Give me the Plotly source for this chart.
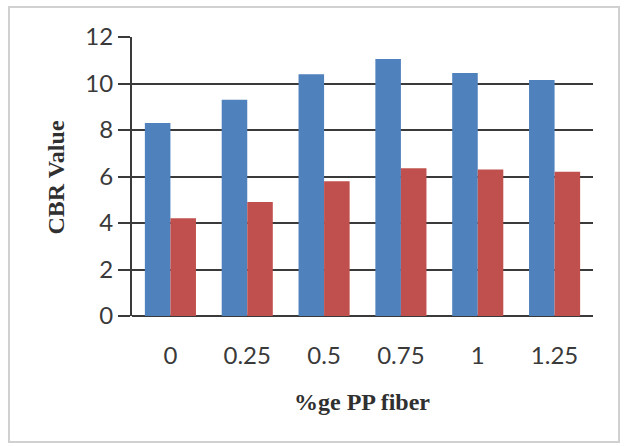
import plotly.graph_objects as go

categories = ["0", "0.25", "0.5", "0.75", "1", "1.25"]
series_a = [8.3, 9.3, 10.4, 11.05, 10.45, 10.15]
series_b = [4.2, 4.9, 5.8, 6.35, 6.3, 6.2]
y_ticks = [0, 2, 4, 6, 8, 10, 12]

fig = go.Figure()
fig.add_trace(go.Bar(x=categories, y=series_a, marker=dict(color="#4F81BD", line=dict(width=0)), name="A"))
fig.add_trace(go.Bar(x=categories, y=series_b, marker=dict(color="#C0504D", line=dict(width=0)), name="B"))

W, H = 626, 446
L, R, T, B = 132, 33, 37, 130
pw, ph = W - L - R, H - T - B

def px(x):
    return (x - L) / pw

def py(y):
    return (H - B - y) / ph

fig.update_layout(
    width=W, height=H,
    margin=dict(l=L, r=R, t=T, b=B),
    paper_bgcolor="white", plot_bgcolor="white",
    showlegend=False,
    barmode="group", bargap=0.335, bargroupgap=0,
    font=dict(family="Lato", size=24, color="#404040"),
    xaxis=dict(
        type="category", showgrid=False, showline=False, zeroline=False,
        ticks="outside", ticklen=18, tickcolor="rgba(0,0,0,0)",
        tickfont=dict(family="Lato", size=24, color="#3a3a3a"),
    ),
    yaxis=dict(
        range=[0, 12], tickvals=y_ticks, showgrid=True, gridcolor="#3a3a3a", gridwidth=2,
        showline=True, linecolor="#3a3a3a", linewidth=2,
        zeroline=True, zerolinecolor="#3a3a3a", zerolinewidth=2,
        ticks="outside", ticklen=12, tickcolor="#3a3a3a", tickwidth=2,
        tickfont=dict(family="Lato", size=24, color="#3a3a3a"),
    ),
    annotations=[
        dict(text="<b>%ge PP fiber</b>", xref="paper", yref="paper", x=px(361.5), y=py(402),
             xanchor="center", yanchor="middle", showarrow=False,
             font=dict(family="Liberation Serif", size=24, color="#303030")),
        dict(text="<b>CBR Value</b>", xref="paper", yref="paper", x=px(56), y=py(177.5),
             xanchor="center", yanchor="middle", showarrow=False, textangle=-90,
             font=dict(family="Liberation Serif", size=24, color="#303030")),
    ],
    shapes=[
        dict(type="rect", xref="paper", yref="paper", x0=px(9), x1=px(619), y0=py(442), y1=py(7),
             line=dict(color="#d0d0d0", width=2), fillcolor="rgba(0,0,0,0)", layer="below"),
    ],
)

fig.write_html("out.html")
